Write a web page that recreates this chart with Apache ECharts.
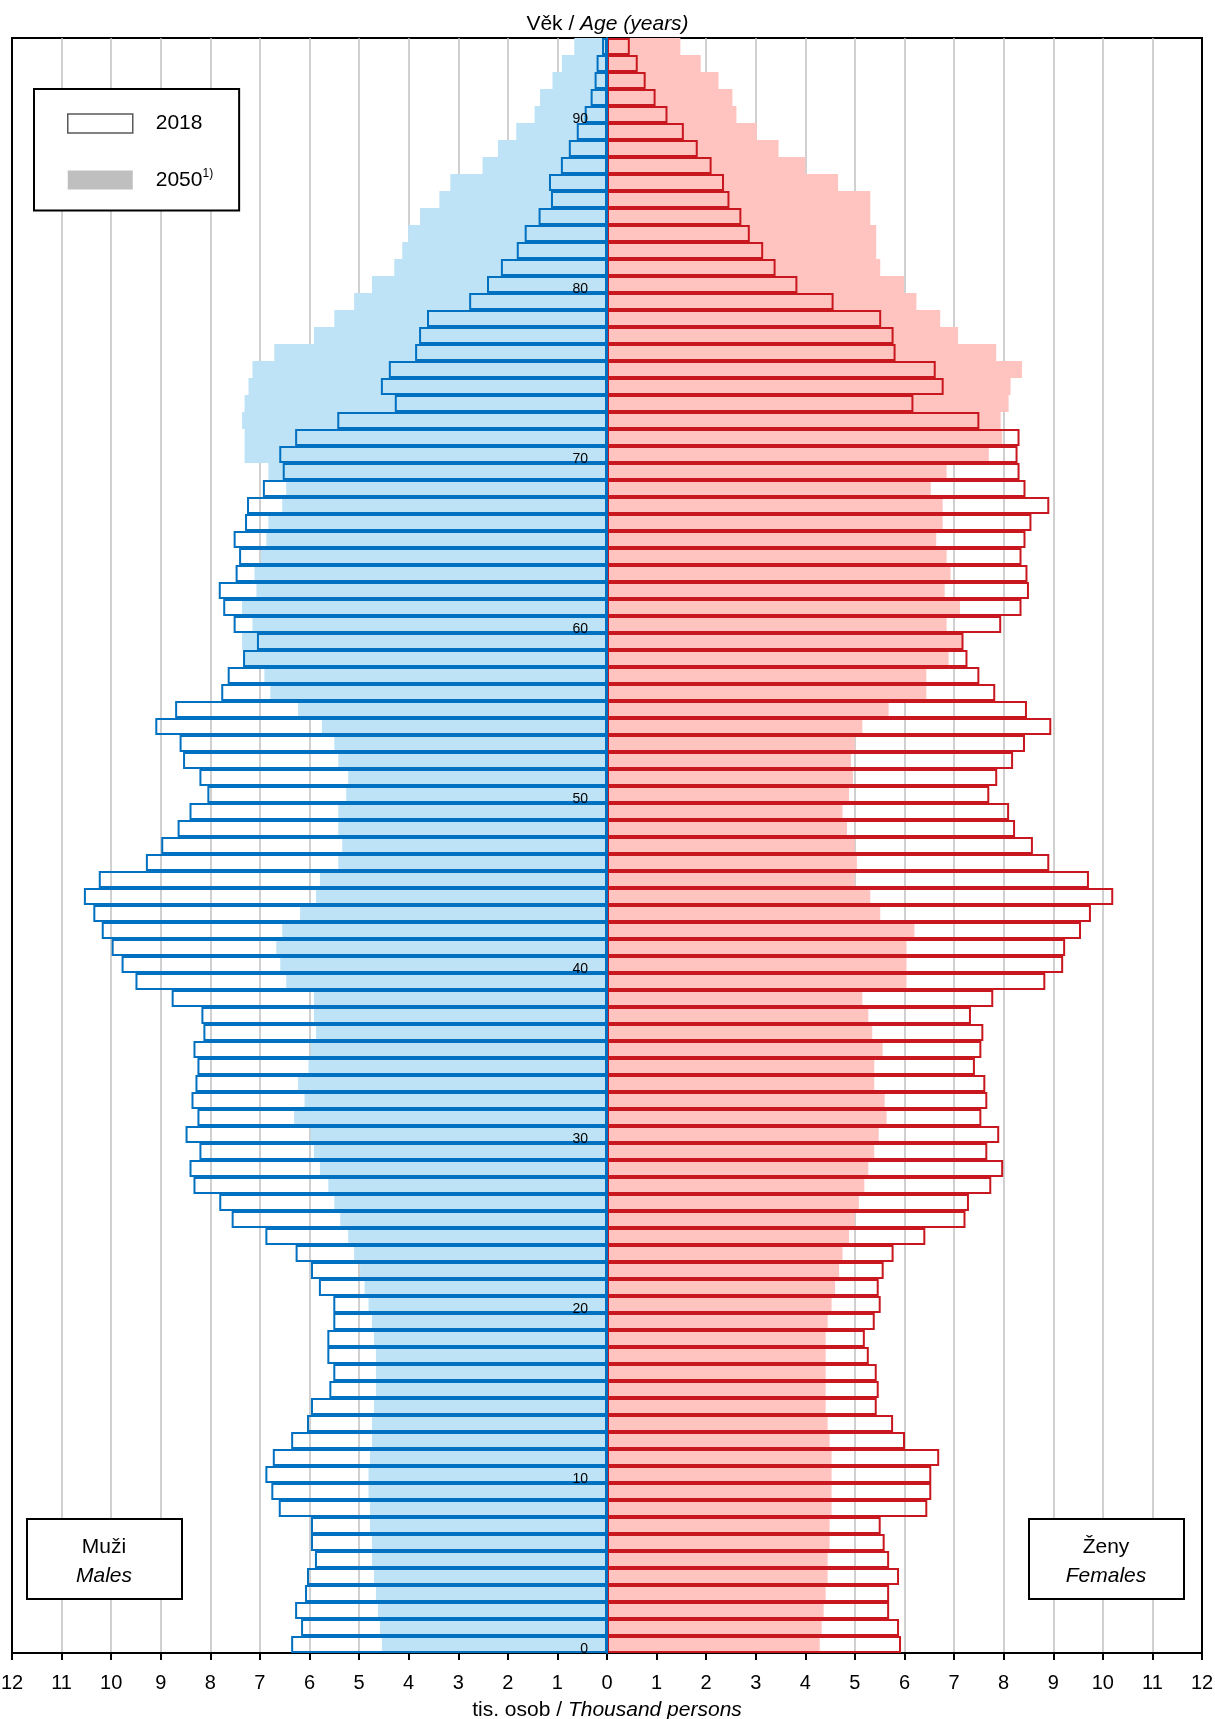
<!DOCTYPE html>
<html>
<head>
<meta charset="utf-8">
<script src="https://cdn.jsdelivr.net/npm/echarts@6/dist/echarts.min.js"></script>
<style>
  body { margin: 0; background: #fff; }
  #chart { width: 1215px; height: 1719px; }
</style>
</head>
<body>
<div id="chart"></div>
<script>
// věk 0 .. 94
var ages = ['0','1','2','3','4','5','6','7','8','9','10','11','12','13','14','15','16','17','18','19',
  '20','21','22','23','24','25','26','27','28','29','30','31','32','33','34','35','36','37','38','39',
  '40','41','42','43','44','45','46','47','48','49','50','51','52','53','54','55','56','57','58','59',
  '60','61','62','63','64','65','66','67','68','69','70','71','72','73','74','75','76','77','78','79',
  '80','81','82','83','84','85','86','87','88','89','90','91','92','93','94'];

// tis. osob, muži 2018
var males2018 = [6.37,6.17,6.29,6.09,6.05,5.89,5.97,5.97,6.62,6.77,
  6.89,6.74,6.37,6.05,5.97,5.60,5.52,5.64,5.64,5.52,
  5.52,5.81,5.97,6.28,6.89,7.57,7.82,8.34,8.42,8.22,
  8.50,8.26,8.38,8.30,8.26,8.34,8.14,8.18,8.78,9.51,
  9.79,9.99,10.19,10.36,10.55,10.25,9.30,8.99,8.66,8.42,
  8.06,8.22,8.55,8.62,9.11,8.71,7.78,7.65,7.34,7.06,
  7.53,7.74,7.83,7.49,7.42,7.53,7.30,7.26,6.94,6.54,
  6.61,6.29,5.44,4.28,4.56,4.40,3.87,3.79,3.63,2.78,
  2.42,2.14,1.82,1.66,1.38,1.13,1.17,0.93,0.77,0.61,
  0.45,0.33,0.25,0.21,0.10];

// muži 2050 (projekce)
var males2050 = [4.54,4.58,4.62,4.66,4.70,4.74,4.74,4.78,4.78,4.81,
  4.81,4.78,4.74,4.74,4.70,4.66,4.66,4.66,4.70,4.74,
  4.81,4.89,4.98,5.10,5.22,5.38,5.50,5.62,5.79,5.91,
  5.98,6.31,6.10,6.23,6.02,5.98,5.87,5.91,5.91,6.47,
  6.59,6.67,6.55,6.19,5.87,5.79,5.42,5.34,5.42,5.42,
  5.26,5.22,5.42,5.50,5.75,6.23,6.79,6.91,7.31,7.36,
  7.15,7.36,7.07,7.11,6.98,6.87,6.83,6.55,6.47,6.83,
  7.31,7.31,7.36,7.31,7.23,7.15,6.71,5.91,5.50,5.10,
  4.74,4.29,4.13,4.01,3.77,3.38,3.16,2.51,2.20,1.83,
  1.46,1.35,1.10,0.91,0.66];

// ženy 2018
var females2018 = [5.93,5.89,5.69,5.69,5.89,5.69,5.60,5.52,6.46,6.54,
  6.54,6.70,6.01,5.77,5.44,5.48,5.44,5.28,5.20,5.40,
  5.52,5.48,5.58,5.78,6.42,7.23,7.30,7.75,7.99,7.67,
  7.91,7.55,7.67,7.63,7.42,7.55,7.59,7.34,7.79,8.84,
  9.20,9.24,9.56,9.76,10.21,9.72,8.92,8.59,8.23,8.11,
  7.71,7.87,8.19,8.43,8.96,8.47,7.83,7.51,7.27,7.19,
  7.95,8.36,8.51,8.48,8.36,8.44,8.56,8.92,8.44,8.32,
  8.28,8.32,7.51,6.18,6.79,6.63,5.82,5.78,5.53,4.57,
  3.84,3.40,3.15,2.88,2.71,2.47,2.36,2.11,1.83,1.55,
  1.22,0.98,0.78,0.62,0.46];

// ženy 2050 (projekce)
var females2050 = [4.29,4.33,4.37,4.41,4.45,4.45,4.49,4.49,4.53,4.53,
  4.53,4.53,4.49,4.45,4.41,4.41,4.41,4.41,4.41,4.45,
  4.53,4.60,4.68,4.75,4.88,5.00,5.08,5.19,5.27,5.39,
  5.48,5.64,5.60,5.39,5.39,5.56,5.35,5.27,5.15,6.04,
  6.04,6.04,6.20,5.51,5.31,5.00,5.04,5.00,4.84,4.75,
  4.88,4.96,4.92,5.00,5.15,5.68,6.44,6.44,6.89,7.16,
  6.85,7.12,6.81,6.93,6.85,6.64,6.77,6.77,6.53,6.85,
  7.70,7.97,7.94,8.10,8.14,8.37,7.85,7.08,6.72,6.24,
  5.99,5.51,5.43,5.43,5.31,5.31,4.66,4.00,3.46,3.02,
  2.61,2.53,2.25,1.89,1.48];

var FONT = '"Liberation Sans", Arial, sans-serif';

var chart = echarts.init(document.getElementById('chart'));

// osa věku leží uprostřed (na nule vodorovné osy)
var GRID_LEFT = 12, GRID_RIGHT = 13;
var gridWidth = 1215 - GRID_LEFT - GRID_RIGHT;

var option = {
  animation: false,
  textStyle: { fontFamily: FONT, color: '#000' },
  title: {
    text: '{a|Věk / }{b|Age (years)}',
    left: 'center',
    top: 9,
    textStyle: {
      fontWeight: 'normal',
      rich: {
        a: { fontFamily: FONT, fontSize: 21, fontWeight: 'normal', color: '#000' },
        b: { fontFamily: FONT, fontSize: 21, fontWeight: 'normal', fontStyle: 'italic', color: '#000' }
      }
    }
  },
  legend: {
    left: 34,
    top: 89,
    orient: 'vertical',
    icon: 'rect',
    itemWidth: 65,
    itemHeight: 19,
    itemGap: 34,
    padding: [24, 26, 20, 33],
    borderColor: '#000',
    borderWidth: 2,
    backgroundColor: '#fff',
    selectedMode: false,
    data: [
      { name: '2018', itemStyle: { color: '#fff', borderColor: '#595959', borderWidth: 1.5 } },
      { name: '2050', itemStyle: { color: '#bfbfbf', borderWidth: 0 } }
    ],
    formatter: function (name) {
      return name === '2050' ? '{a|2050}{s|1)}' : '{a|' + name + '}';
    },
    textStyle: {
      rich: {
        a: { fontFamily: FONT, fontSize: 21, color: '#000', padding: [0, 0, 0, 18], lineHeight: 24 },
        s: { fontFamily: FONT, fontSize: 12, color: '#000', verticalAlign: 'top', lineHeight: 24 }
      }
    }
  },
  grid: {
    left: GRID_LEFT,
    right: GRID_RIGHT,
    top: 38,
    bottom: 66,
    outerBoundsMode: 'none',
    containLabel: false,
    show: true,
    borderColor: '#000',
    borderWidth: 2
  },
  xAxis: {
    type: 'value',
    min: -12,
    max: 12,
    interval: 1,
    axisLine: { show: true, onZero: false, lineStyle: { color: '#000', width: 2 } },
    axisTick: { show: true, length: 7, lineStyle: { color: '#000', width: 2 } },
    axisLabel: {
      formatter: function (v) { return Math.abs(v); },
      fontSize: 20,
      color: '#000',
      margin: 20
    },
    splitLine: { show: true, showMinLine: false, showMaxLine: false, lineStyle: { color: '#c0c0c0', width: 1.5 } },
    name: '{a|tis. osob / }{b|Thousand persons}',
    nameLocation: 'middle',
    nameGap: 47,
    nameTextStyle: {
      rich: {
        a: { fontFamily: FONT, fontSize: 21, color: '#000' },
        b: { fontFamily: FONT, fontSize: 21, fontStyle: 'italic', color: '#000' }
      }
    }
  },
  yAxis: {
    type: 'category',
    data: ages,
    position: 'left',
    offset: -gridWidth / 2,
    z: 10,
    axisLine: { show: true, onZero: false, lineStyle: { color: '#0070c0', width: 2 } },
    axisTick: { show: false },
    axisLabel: {
      interval: function (index) { return index % 10 === 0; },
      fontSize: 14,
      color: '#000',
      margin: 19,
      verticalAlign: 'top',
      lineHeight: 10
    },
    splitLine: { show: false }
  },
  series: [
    {
      name: '2050',
      type: 'bar',
      stack: 'p2050',
      barCategoryGap: 0,
      barGap: '-100%',
      itemStyle: { color: '#bee3f6' },
      data: males2050.map(function (v) { return -v; })
    },
    {
      name: '2050',
      type: 'bar',
      stack: 'p2050',
      barCategoryGap: 0,
      barGap: '-100%',
      itemStyle: { color: '#ffc4c0' },
      data: females2050
    },
    {
      name: '2018',
      type: 'bar',
      stack: 'p2018',
      barCategoryGap: 0,
      barGap: '-100%',
      itemStyle: { color: 'rgba(0,0,0,0)', borderColor: '#0070c0', borderWidth: 2 },
      data: males2018.map(function (v) { return -v; })
    },
    {
      name: '2018',
      type: 'bar',
      stack: 'p2018',
      barCategoryGap: 0,
      barGap: '-100%',
      itemStyle: { color: 'rgba(0,0,0,0)', borderColor: '#c8171e', borderWidth: 2 },
      data: females2018
    }
  ],
  graphic: [
    { type: 'rect', shape: { x: 27, y: 1519, width: 155, height: 80 }, style: { fill: '#fff', stroke: '#000', lineWidth: 2 }, z: 100 },
    { type: 'text', x: 104, y: 1547, style: { text: 'Muži', fontFamily: FONT, fontSize: 21, fill: '#000', align: 'center', verticalAlign: 'middle' }, z: 101 },
    { type: 'text', x: 104, y: 1576, style: { text: 'Males', fontFamily: FONT, fontSize: 21, fontStyle: 'italic', fill: '#000', align: 'center', verticalAlign: 'middle' }, z: 101 },
    { type: 'rect', shape: { x: 1029, y: 1519, width: 155, height: 80 }, style: { fill: '#fff', stroke: '#000', lineWidth: 2 }, z: 100 },
    { type: 'text', x: 1106, y: 1547, style: { text: 'Ženy', fontFamily: FONT, fontSize: 21, fill: '#000', align: 'center', verticalAlign: 'middle' }, z: 101 },
    { type: 'text', x: 1106, y: 1576, style: { text: 'Females', fontFamily: FONT, fontSize: 21, fontStyle: 'italic', fill: '#000', align: 'center', verticalAlign: 'middle' }, z: 101 }
  ]
};

chart.setOption(option);
window.addEventListener('resize', function () { chart.resize(); });
</script>
</body>
</html>
